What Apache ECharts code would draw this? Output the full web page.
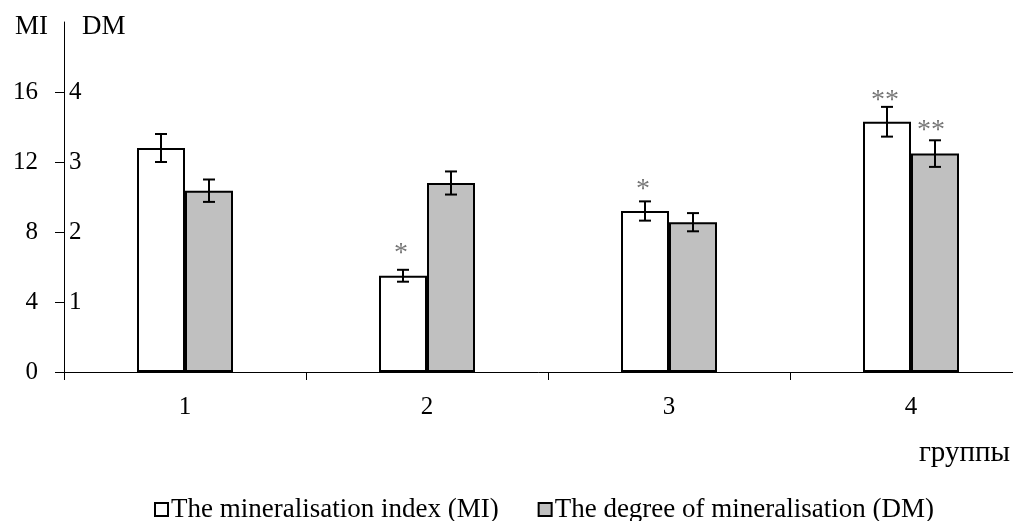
<!DOCTYPE html>
<html>
<head>
<meta charset="utf-8">
<script src="https://cdn.jsdelivr.net/npm/echarts@6/dist/echarts.min.js"></script>
<style>html,body{margin:0;padding:0;background:#fff}#c{width:1013px;height:521px}</style>
</head>
<body>
<div id="c"></div>
<script>
var categories = ['1', '2', '3', '4'];
var miValues = [12.8, 5.5, 9.2, 14.3];
var miErrors = [0.8, 0.34, 0.55, 0.85];
var dmValues = [2.59, 2.70, 2.14, 3.12];
var dmErrors = [0.16, 0.165, 0.13, 0.19];
var miTicks = [0, 4, 8, 12, 16];
var dmTicks = [1, 2, 3, 4];
var miStars = [[1, 7.0, '*'], [2, 10.65, '*'], [3, 15.75, '**']];
var dmStars = [[3, 3.5, '**']];
var seriesNames = ['The mineralisation index (MI)', 'The degree of mineralisation (DM)'];

var FONT = 'Liberation Serif';
var BAR_W = 48;

function errData(vals, errs) {
  return vals.map(function (v, i) { return [i, v - errs[i], v + errs[i]]; });
}
function errRender(sign) {
  return function (params, api) {
    var x = api.value(0);
    var lo = api.coord([x, api.value(1)]);
    var hi = api.coord([x, api.value(2)]);
    var cx = lo[0] + sign * BAR_W / 2;
    var cap = 6;
    var st = { stroke: '#000', lineWidth: 2 };
    return {
      type: 'group',
      children: [
        { type: 'line', shape: { x1: cx, y1: lo[1], x2: cx, y2: hi[1] }, style: st },
        { type: 'line', shape: { x1: cx - cap, y1: lo[1], x2: cx + cap, y2: lo[1] }, style: st },
        { type: 'line', shape: { x1: cx - cap, y1: hi[1], x2: cx + cap, y2: hi[1] }, style: st }
      ]
    };
  };
}

var chart = echarts.init(document.getElementById('c'));
chart.setOption({
  animation: false,
  textStyle: { fontFamily: FONT, color: '#000' },
  grid: { left: 64, right: -19, top: 22, bottom: 149, containLabel: false, outerBoundsMode: 'none' },
  legend: {
    data: seriesNames,
    left: 149, top: 491,
    itemWidth: 13, itemHeight: 13, itemGap: 39,
    icon: 'rect',
    textStyle: { fontFamily: FONT, fontSize: 27, color: '#000', padding: [0, 0, 0, -2] }
  },
  xAxis: {
    type: 'category',
    data: categories,
    axisLine: { lineStyle: { color: '#000', width: 1 } },
    axisTick: { show: true, length: 8, lineStyle: { color: '#000' } },
    axisLabel: { fontFamily: FONT, fontSize: 25, color: '#000', margin: 23 }
  },
  yAxis: [
    {
      type: 'value', min: 0, max: 20, interval: 4, position: 'left',
      name: 'MI', nameLocation: 'end', nameGap: -5,
      nameTextStyle: { fontFamily: FONT, fontSize: 27, color: '#000', align: 'right', verticalAlign: 'middle', padding: [0, 16, 0, 0] },
      axisLine: { show: true, lineStyle: { color: '#000', width: 1 } },
      axisTick: { show: true, length: 9, customValues: miTicks, lineStyle: { color: '#000' } },
      axisLabel: { fontFamily: FONT, fontSize: 25, color: '#000', margin: 26, customValues: miTicks },
      splitLine: { show: false }
    },
    {
      type: 'value', min: 0, max: 5, interval: 1, position: 'left', offset: 0,
      name: 'DM', nameLocation: 'end', nameGap: -5,
      nameTextStyle: { fontFamily: FONT, fontSize: 27, color: '#000', align: 'left', verticalAlign: 'middle', padding: [0, 0, 0, 18] },
      axisLine: { show: false },
      axisTick: { show: false },
      axisLabel: { inside: true, fontFamily: FONT, fontSize: 25, color: '#000', margin: 5, customValues: dmTicks },
      splitLine: { show: false }
    }
  ],
  graphic: [
    { type: 'text', right: 3, top: 439, style: { text: 'группы', font: '29px "Liberation Serif"', fill: '#000' } }
  ],
  series: [
    {
      name: seriesNames[0], type: 'bar', yAxisIndex: 0, data: miValues,
      barWidth: BAR_W, barGap: '0%',
      itemStyle: { color: '#fff', borderColor: '#000', borderWidth: 2 }
    },
    {
      name: seriesNames[1], type: 'bar', yAxisIndex: 1, data: dmValues,
      barWidth: BAR_W, barGap: '0%',
      itemStyle: { color: '#c0c0c0', borderColor: '#000', borderWidth: 2 }
    },
    {
      type: 'custom', yAxisIndex: 0, data: errData(miValues, miErrors),
      renderItem: errRender(-1), encode: { x: 0, y: [1, 2] }, z: 5
    },
    {
      type: 'custom', yAxisIndex: 1, data: errData(dmValues, dmErrors),
      renderItem: errRender(1), encode: { x: 0, y: [1, 2] }, z: 5
    },
    {
      type: 'scatter', yAxisIndex: 0, data: miStars, symbolSize: 0, z: 6,
      label: { show: true, position: 'inside', offset: [-26, 4], formatter: function (p) { return p.value[2]; },
        fontFamily: FONT, fontSize: 28, color: '#555' }
    },
    {
      type: 'scatter', yAxisIndex: 1, data: dmStars, symbolSize: 0, z: 6,
      label: { show: true, position: 'inside', offset: [20, 4], formatter: function (p) { return p.value[2]; },
        fontFamily: FONT, fontSize: 28, color: '#555' }
    }
  ]
});
</script>
</body>
</html>
